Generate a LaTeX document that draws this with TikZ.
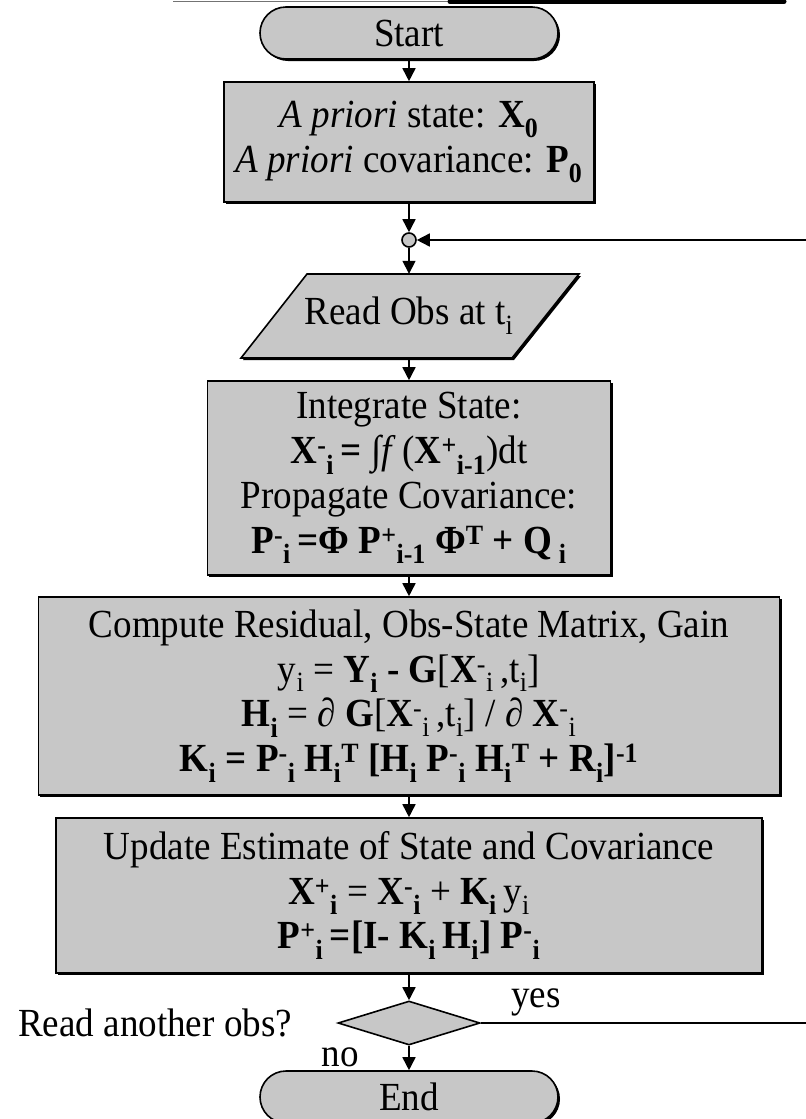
\documentclass[tikz,border=0pt]{standalone}
\usepackage{fontspec}
\setmainfont{Liberation Serif}[FakeStretch=0.93]
\usetikzlibrary{arrows.meta,shapes.geometric,shapes.misc,shadows}
\definecolor{boxgray}{gray}{0.78}
\newcommand{\Sp}[1]{\textsuperscript{#1}}
\newcommand{\Sb}[1]{\textsubscript{#1}}
\begin{document}
\begin{tikzpicture}[x=1bp,y=-1bp,
  txt/.style={font=\fontsize{40}{45}\selectfont},
  shade/.style={drop shadow={shadow xshift=2bp,shadow yshift=-2bp,fill=black,opacity=1}},
  box/.style={draw,line width=1.6bp,fill=boxgray,shade,inner sep=0pt,align=center,txt},
  term/.style={box,rounded rectangle},
  arr/.style={-{Triangle[length=13bp,width=13bp]},line width=1.6bp},
  plain/.style={line width=1.6bp}]
\useasboundingbox (0,0) rectangle (806,1119);
% top edge fragment
\draw[line width=0.8bp,black!55] (173,1) -- (450,1);
\draw[line width=5bp,line cap=round] (450,1.5) -- (784,1.5);
% nodes
\node[term,minimum width=298bp,minimum height=52bp] (start) at (409,33) {Start};
\node[box,minimum width=370bp,minimum height=120bp] (prior) at (409,142)
  {\textit{A priori} state: \textbf{X\Sb{0}}\\\textit{A priori} covariance: \textbf{P\Sb{0}}};
\node[circle,draw,line width=1.6bp,fill=boxgray,minimum size=14bp,inner sep=0pt] (junc) at (409,240) {};
\filldraw[line width=1.6bp,fill=boxgray,shade] (307,274) -- (579,274) -- (512,358) -- (241,358) -- cycle;
\node[txt,minimum width=200bp,minimum height=84bp,inner sep=0pt] (read) at (409,316) {Read Obs at t\Sb{i}};
\node[box,minimum width=403bp,minimum height=194bp] (integ) at (409,478)
  {Integrate State:\\
   \textbf{X\Sp{-}\Sb{i}\,=} ∫\textit{f}\,(\textbf{X\Sp{+}\Sb{i-1}})dt\\
   Propagate Covariance:\\
   \textbf{P\Sp{-}\Sb{i}\,=Φ P\Sp{+}\Sb{i-1} Φ\Sp{T} + Q\,\Sb{i}}};
\node[box,minimum width=741bp,minimum height=198bp] (comp) at (409,696)
  {Compute Residual, Obs-State Matrix, Gain\\
   y\Sb{i} = \textbf{Y\Sb{i} - G}[\textbf{X}\Sp{-}\Sb{i}\,,t\Sb{i}]\\
   \textbf{H\Sb{i}} = ∂ \textbf{G}[\textbf{X}\Sp{-}\Sb{i}\,,t\Sb{i}] / ∂ \textbf{X}\Sp{-}\Sb{i}\\
   \textbf{K\Sb{i} = P\Sp{-}\Sb{i} H\Sb{i}\Sp{T} [H\Sb{i} P\Sp{-}\Sb{i} H\Sb{i}\Sp{T} + R\Sb{i}]\Sp{-1}}};
\node[box,minimum width=706bp,minimum height=155bp] (upd) at (409,895.5)
  {Update Estimate of State and Covariance\\
   \textbf{X\Sp{+}\Sb{i}} = \textbf{X\Sp{-}\Sb{i}} + \textbf{K\Sb{i}}\,y\Sb{i}\\
   \textbf{P\Sp{+}\Sb{i}\,=[I- K\Sb{i}\,H\Sb{i}] P\Sp{-}\Sb{i}}};
\node[diamond,draw,line width=1.6bp,fill=boxgray,inner sep=0pt,minimum width=142bp,minimum height=44bp] (dec) at (409,1023) {};
\node[term,minimum width=298bp,minimum height=52bp] (end) at (409,1097) {End};
% labels
\node[txt,anchor=base west,inner sep=0pt] (qlab) at (18,1036) {Read another obs?};
\node[txt,anchor=base,inner sep=0pt] (yes) at (536,1007) {yes};
\node[txt,anchor=base,inner sep=0pt] (no) at (340,1066) {no};
% loop end points (off picture)
\coordinate (loopout) at (806,1023);
\coordinate (loopin) at (806,240);
% connectors
\draw[arr] (start.south) -- (prior.north);
\draw[arr] (prior.south) -- (junc.north);
\draw[arr] (junc.south) -- (read.north);
\draw[arr] (read.south) -- (integ.north);
\draw[arr] (integ.south) -- (comp.north);
\draw[arr] (comp.south) -- (upd.north);
\draw[arr] (upd.south) -- (dec.north);
\draw[arr] (dec.south) -- (end.north);
\draw[plain] (dec.east) -- (loopout);
\draw[arr] (loopin) -- (junc.east);
\end{tikzpicture}
\end{document}
